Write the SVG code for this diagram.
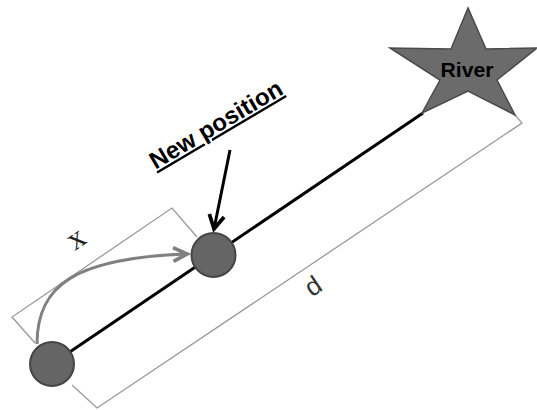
<svg xmlns="http://www.w3.org/2000/svg" width="537" height="410" viewBox="0 0 537 410">
  <style>
    .bracket { fill: none; stroke: #9a9a9a; stroke-width: 1.3; }
    .dot { fill: #656565; stroke: #454545; stroke-width: 2; }
    .lbl { font-family: "Liberation Sans", Arial, sans-serif; }
  </style>
  <defs>
    <marker id="headBlack" markerUnits="userSpaceOnUse" markerWidth="20" markerHeight="20" viewBox="-12 -8 14 16" refX="0" refY="0" orient="auto">
      <path d="M-11,-6 L0,0 L-11,6" fill="none" stroke="#000" stroke-width="3" stroke-linejoin="miter"/>
    </marker>
    <marker id="headGray" markerUnits="userSpaceOnUse" markerWidth="20" markerHeight="20" viewBox="-12 -8 14 16" refX="0" refY="0" orient="auto">
      <path d="M-11,-5.5 L0,0 L-11,5.5" fill="none" stroke="#808080" stroke-width="3"/>
    </marker>
  </defs>
  <rect width="537" height="410" fill="#fff"/>

  <g id="connectors">
    <path id="bracket-d" class="bracket" d="M72,385 L97,408 L522,123 L515,115"/>
    <path id="bracket-x" class="bracket" d="M35,343 L12,317 L172,208 L197,237"/>
    <line id="path-line" x1="52" y1="364" x2="423" y2="113" stroke="#000" stroke-width="3"/>
    <path id="move-arrow" d="M37,344 C37,285 75,258 187,254" fill="none" stroke="#808080" stroke-width="3" marker-end="url(#headGray)"/>
    <line id="label-arrow" x1="230" y1="150" x2="214" y2="229" stroke="#000" stroke-width="3" marker-end="url(#headBlack)"/>
  </g>

  <g id="river">
    <polygon points="468,8 451,49 390,48 440,80 422,113 468,91 515,115 497,80 537,48 486,49" fill="#6b6b6b" stroke="#4a4a4a" stroke-width="1.5" stroke-linejoin="miter"/>
    <text class="lbl" x="467" y="77" font-size="20" font-weight="bold" text-anchor="middle" fill="#000" textLength="53" lengthAdjust="spacingAndGlyphs">River</text>
  </g>

  <g id="start">
    <circle class="dot" cx="52" cy="364" r="22"/>
  </g>

  <g id="new-position">
    <circle class="dot" cx="213.5" cy="255" r="22"/>
    <text class="lbl" transform="translate(220,131.5) rotate(-30.6)" font-size="24" font-weight="bold" text-anchor="middle" text-decoration="underline" fill="#000" textLength="150" lengthAdjust="spacingAndGlyphs">New position</text>
  </g>

  <g id="label-x">
    <text transform="translate(77,240) rotate(-34)" font-family="'Liberation Serif', 'Times New Roman', serif" font-size="32" text-anchor="middle" dy="0.25em" fill="#222">x</text>
  </g>

  <g id="label-d">
    <text class="lbl" transform="translate(313,286) rotate(-34)" font-size="26" text-anchor="middle" dy="0.35em" fill="#333">d</text>
  </g>
</svg>
